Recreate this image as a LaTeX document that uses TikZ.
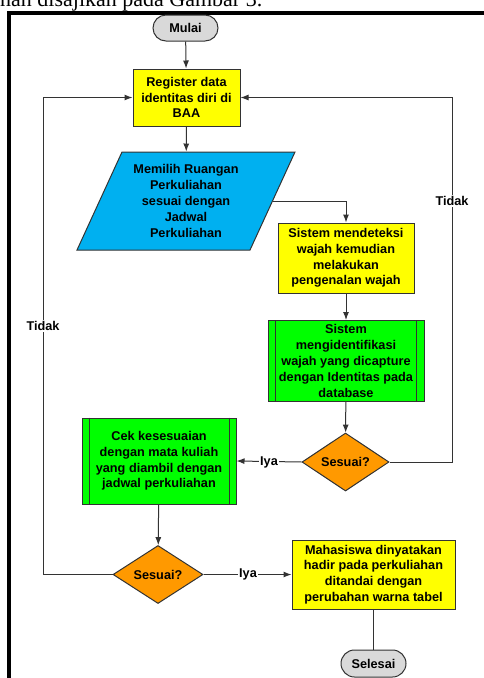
\documentclass[tikz,border=0pt]{standalone}
\usepackage{fontspec}
\setmainfont{Liberation Sans}
\newfontfamily\bodyserif{Liberation Serif}
\usetikzlibrary{shapes.geometric,shapes.misc,arrows.meta}

\definecolor{termgray}{HTML}{D9D9D9}
\definecolor{procyellow}{HTML}{FFFF00}
\definecolor{ioblue}{HTML}{00B0F0}
\definecolor{predgreen}{HTML}{00FF00}
\definecolor{decorange}{HTML}{FF9900}
\definecolor{linegray}{HTML}{333333}

\tikzset{
  base/.style={draw=linegray, line width=1pt, align=center, inner sep=0pt,
    font=\fontsize{12.7}{15.8}\selectfont\bfseries},
  terminal/.style={base, rounded rectangle, fill=termgray,
    minimum width=65pt, minimum height=26pt},
  procbox/.style={base, rectangle, fill=procyellow},
  iobox/.style={base, trapezium, trapezium left angle=63,
    trapezium right angle=117, trapezium stretches=true, fill=ioblue},
  predef/.style={base, rectangle, fill=predgreen},
  decision/.style={base, diamond, fill=decorange},
  flow/.style={draw=linegray, line width=1pt, -{Latex[length=8pt,width=6pt]}},
  plain/.style={draw=linegray, line width=1pt},
  lbl/.style={fill=white, inner sep=1pt,
    font=\fontsize{12.7}{15.8}\selectfont\bfseries}
}

\begin{document}
\begin{tikzpicture}[x=1pt,y=-1pt]
\useasboundingbox (0,0) rectangle (483,678);

% running text above the frame
\node[anchor=base west, inner sep=0pt,
  font=\bodyserif\fontsize{22}{24}\selectfont] (caption) at (0,6.5)
  {nan disajikan pada Gambar 3.};

% frame
\draw[line width=4pt] (8.7,690) -- (8.7,12.5) -- (490,12.5);

% nodes
\node[terminal] (mulai) at (185.5,28) {Mulai};
\node[procbox, minimum width=107pt, minimum height=57pt] (reg) at (186.5,97.5)
  {Register data\\identitas diri di\\BAA};
\node[iobox, minimum width=218pt, minimum height=98pt] (par) at (186,201)
  {Memilih Ruangan\\Perkuliahan\\sesuai dengan\\Jadwal\\Perkuliahan};
\node[procbox, minimum width=136pt, minimum height=70pt] (det) at (346,258)
  {Sistem mendeteksi\\wajah kemudian\\melakukan\\pengenalan wajah};
\node[predef, minimum width=156pt, minimum height=81pt] (ident) at (346,361)
  {Sistem\\mengidentifikasi\\wajah yang dicapture\\dengan Identitas pada\\database};
\draw[plain] ([xshift=8pt]ident.north west) -- ([xshift=8pt]ident.south west);
\draw[plain] ([xshift=-8pt]ident.north east) -- ([xshift=-8pt]ident.south east);
\node[decision, minimum width=87pt, minimum height=54pt] (dec1) at (345.5,462) {Sesuai?};
\node[predef, minimum width=154pt, minimum height=86pt] (cek) at (159,461)
  {Cek kesesuaian\\dengan mata kuliah\\yang diambil dengan\\jadwal perkuliahan};
\draw[plain] ([xshift=7.5pt]cek.north west) -- ([xshift=7.5pt]cek.south west);
\draw[plain] ([xshift=-7.5pt]cek.north east) -- ([xshift=-7.5pt]cek.south east);
\node[decision, minimum width=90pt, minimum height=55pt] (dec2) at (158,574.5) {Sesuai?};
\node[procbox, minimum width=163pt, minimum height=69pt] (hadir) at (373.5,574.5)
  {Mahasiswa dinyatakan\\hadir pada perkuliahan\\ditandai dengan\\perubahan warna tabel};
\node[terminal, minimum height=27pt] (selesai) at (373.5,663.5) {Selesai};

% loop-back corners
\coordinate (rc) at (452,97.5);
\coordinate (lc) at (43,97.5);

% connectors
\draw[flow] (mulai) -- (reg);
\draw[flow] (reg) -- (par);
\draw[flow] (par.east) -| (det.north);
\draw[flow] (det) -- (ident);
\draw[flow] (ident) -- (dec1);
\draw[flow] (dec1.east) -| (rc) -- (reg.east);
\draw[flow] (dec1.west) -- (cek.east);
\draw[flow] (cek) -- (dec2);
\draw[flow] (dec2.west) -| (lc) -- (reg.west);
\draw[flow] (dec2.east) -- (hadir.west);
\draw[plain] (hadir) -- (selesai);

% branch labels
\node[lbl] (tidak1) at (452,201) {Tidak};
\node[lbl] (iya1) at (269,462) {Iya};
\node[lbl] (tidak2) at (43,326) {Tidak};
\node[lbl] (iya2) at (248,574.5) {Iya};
\end{tikzpicture}
\end{document}
